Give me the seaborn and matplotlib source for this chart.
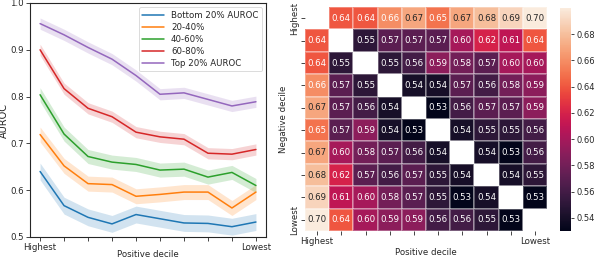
import numpy as np
import pandas as pd
import matplotlib
matplotlib.use("Agg")
import matplotlib.pyplot as plt
import seaborn as sns

sns.set_style("ticks")
plt.rcParams['font.family'] = ['DejaVu Sans']

# ---------- data ----------
deciles = list(range(10))
tick_labels = ["Highest", "", "", "", "", "", "", "", "", "Lowest"]

series_names = ["Bottom 20% AUROC", "20-40%", "40-60%", "60-80%", "Top 20% AUROC"]
bottom = [0.640, 0.567, 0.542, 0.528, 0.548, 0.539, 0.530, 0.529, 0.522, 0.532]
q20_40 = [0.719, 0.652, 0.614, 0.612, 0.587, 0.591, 0.596, 0.596, 0.562, 0.596]
q40_60 = [0.804, 0.720, 0.672, 0.660, 0.655, 0.643, 0.645, 0.628, 0.638, 0.610]
q60_80 = [0.900, 0.817, 0.775, 0.757, 0.724, 0.714, 0.709, 0.679, 0.677, 0.687]
top = [0.956, 0.932, 0.905, 0.880, 0.845, 0.805, 0.808, 0.794, 0.780, 0.789]
ci_half = [0.018, 0.016, 0.015, 0.012, 0.012]

heat = [
    [np.nan, 0.64, 0.64, 0.66, 0.67, 0.65, 0.67, 0.68, 0.69, 0.70],
    [0.64, np.nan, 0.55, 0.57, 0.57, 0.57, 0.60, 0.62, 0.61, 0.64],
    [0.64, 0.55, np.nan, 0.55, 0.56, 0.59, 0.58, 0.57, 0.60, 0.60],
    [0.66, 0.57, 0.55, np.nan, 0.54, 0.54, 0.57, 0.56, 0.58, 0.59],
    [0.67, 0.57, 0.56, 0.54, np.nan, 0.53, 0.56, 0.57, 0.57, 0.59],
    [0.65, 0.57, 0.59, 0.54, 0.53, np.nan, 0.54, 0.55, 0.55, 0.56],
    [0.67, 0.60, 0.58, 0.57, 0.56, 0.54, np.nan, 0.54, 0.53, 0.56],
    [0.68, 0.62, 0.57, 0.56, 0.57, 0.55, 0.54, np.nan, 0.54, 0.55],
    [0.69, 0.61, 0.60, 0.58, 0.57, 0.55, 0.53, 0.54, np.nan, 0.53],
    [0.70, 0.64, 0.60, 0.59, 0.59, 0.56, 0.56, 0.55, 0.53, np.nan],
]

# ---------- figure ----------
fig = plt.figure(figsize=(5.96, 2.60), dpi=100)
W, H = 596, 260
ax1 = fig.add_axes([30 / W, 1 - 237 / H, 236 / W, 234 / H])
ax2 = fig.add_axes([305 / W, 1 - 231 / H, 242 / W, 224 / H])
cax = fig.add_axes([560 / W, 1 - 231 / H, 11 / W, 223 / H])

fs = 6.2
colors = sns.color_palette("tab10", 5)
all_series = [bottom, q20_40, q40_60, q60_80, top]
df = pd.DataFrame({
    "decile": np.tile(deciles, 5),
    "AUROC": np.concatenate(all_series),
    "group": np.repeat(series_names, 10),
})
sns.lineplot(data=df, x="decile", y="AUROC", hue="group", hue_order=series_names,
             palette=colors, ax=ax1, linewidth=1.1)
for vals, c, h in zip(all_series, colors, ci_half):
    v = np.array(vals)
    ax1.fill_between(deciles, v - h, v + h, color=c, alpha=0.2, linewidth=0)

ax1.set_ylim(0.5, 1.0)
ax1.set_xlim(-0.42, 9.42)
ax1.set_xticks(deciles)
ax1.set_xticklabels(tick_labels, fontsize=fs)
ax1.set_yticks([0.5, 0.6, 0.7, 0.8, 0.9, 1.0])
ax1.set_yticklabels(["0.5", "0.6", "0.7", "0.8", "0.9", "1.0"], fontsize=fs)
ax1.tick_params(length=3, width=0.6, pad=1.5)
ax1.set_xlabel("Positive decile", fontsize=fs)
ax1.xaxis.set_label_coords(0.5, -0.056)
ax1.set_ylabel("AUROC", fontsize=7, labelpad=1)
for s in ax1.spines.values():
    s.set_linewidth(0.8)
leg = ax1.legend(loc="upper right", fontsize=fs, frameon=True, handlelength=2.5,
                 borderpad=0.4, labelspacing=0.35)
leg.get_frame().set_linewidth(0.6)

hm = np.array(heat)
sns.heatmap(hm, ax=ax2, cbar_ax=cax, annot=True, fmt=".2f",
            annot_kws={"fontsize": fs}, linewidths=0.25, linecolor=(1, 1, 1, 0.3),
            vmin=0.53, vmax=0.70, square=False)
ax2.set_xticks(np.arange(10) + 0.5)
ax2.set_xticklabels(tick_labels, fontsize=fs, rotation=0)
ax2.set_yticks(np.arange(10) + 0.5)
ax2.set_yticklabels(tick_labels, fontsize=fs, rotation=90, va="center")
ax2.tick_params(length=3, width=0.6, pad=1.5)
ax2.set_xlabel("Positive decile", fontsize=fs, labelpad=1)
ax2.set_ylabel("Negative decile", fontsize=fs, labelpad=1)
cax.tick_params(labelsize=6, length=2.5, width=0.6, pad=1.5)
cax.set_yticks([0.54, 0.56, 0.58, 0.60, 0.62, 0.64, 0.66, 0.68])
for s in cax.spines.values():
    s.set_visible(False)

fig.savefig("out.png", dpi=100)
